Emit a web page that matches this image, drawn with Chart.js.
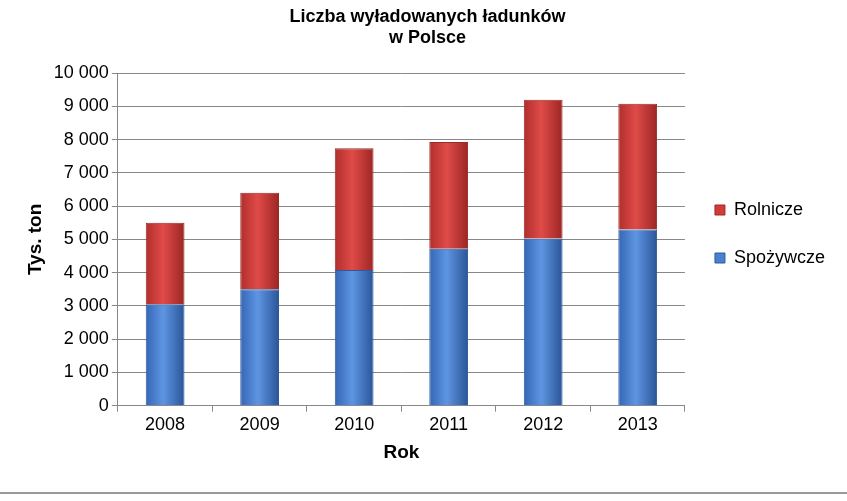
<!DOCTYPE html>
<html><head><meta charset="utf-8">
<script src="https://cdn.jsdelivr.net/npm/chart.js@4"></script>
<style>
body{margin:0;background:#fff;font-family:"Liberation Sans",Arial,sans-serif}
#wrap{position:absolute;left:0;top:0;width:847px;height:492px}
#line{position:absolute;left:0;top:492px;width:847px;height:2px;background:#999}
</style></head><body>
<div id="wrap"><canvas id="c"></canvas></div><div id="line"></div>
<script>
const categories=["2008","2009","2010","2011","2012","2013"];
const spozywcze=[3050,3500,4080,4720,5030,5300];
const rolnicze=[2450,2900,3660,3210,4170,3780];
const ctx=document.getElementById('c').getContext('2d');
function grad(c1,c2,c3){return function(context){const ch=context.chart;const a=ch.chartArea;if(!a||context.dataIndex===undefined)return c2;
 const xs=ch.scales.x; const cx=xs.getPixelForValue(context.dataIndex); const w=xs.width/categories.length*0.41;
 const g=ch.ctx.createLinearGradient(cx-w/2,0,cx+w/2,0);g.addColorStop(0,c1);g.addColorStop(0.45,c2);g.addColorStop(1,c3);return g;}}
new Chart(ctx,{type:'bar',data:{labels:categories,datasets:[
{label:'Spożywcze',data:spozywcze,backgroundColor:grad('#3466b4','#5e95e2','#2a5598'),borderColor:'#2d5a9a',borderWidth:1},
{label:'Rolnicze',data:rolnicze,backgroundColor:grad('#b02e2c','#df4b48','#9c2624'),borderColor:'#9a2a28',borderWidth:1}]},
options:{responsive:true,maintainAspectRatio:false,animation:false,
layout:{padding:{left:20,right:12,top:0,bottom:24}},
datasets:{bar:{barPercentage:0.41,categoryPercentage:1}},
plugins:{title:{display:true,text:['Liczba wyładowanych ładunków','w Polsce'],color:'#000',font:{size:18,weight:'bold',family:'Liberation Sans'},padding:{top:6,bottom:24},lineHeight:1.25},
legend:{position:'right',reverse:true,labels:{color:'#000',boxWidth:10,boxHeight:10,font:{size:18,family:'Liberation Sans'},padding:30,
 generateLabels:(ch)=>ch.data.datasets.map((d,i)=>({text:d.label,fillStyle:i?'#d23b38':'#4a80d0',strokeStyle:i?'#9a2a28':'#2d5a9a',lineWidth:1,datasetIndex:i}))}},
tooltip:{enabled:false}},
scales:{x:{stacked:true,grid:{display:true,drawOnChartArea:false,color:'#888',tickLength:6},border:{color:'#888'},
 ticks:{color:'#000',font:{size:18,family:'Liberation Sans'}},title:{display:true,text:'Rok',color:'#000',font:{size:19,weight:'bold',family:'Liberation Sans'},padding:{top:2}}},
y:{stacked:true,min:0,max:10000,ticks:{stepSize:1000,color:'#000',font:{size:18,family:'Liberation Sans'},callback:v=>v>=1000?Math.floor(v/1000)+' '+String(v%1000).padStart(3,'0'):String(v)},
 grid:{color:'#888',tickLength:6},border:{color:'#888'},
 title:{display:true,text:'Tys. ton',color:'#000',font:{size:19,weight:'bold',family:'Liberation Sans'}}}}}});
</script></body></html>
